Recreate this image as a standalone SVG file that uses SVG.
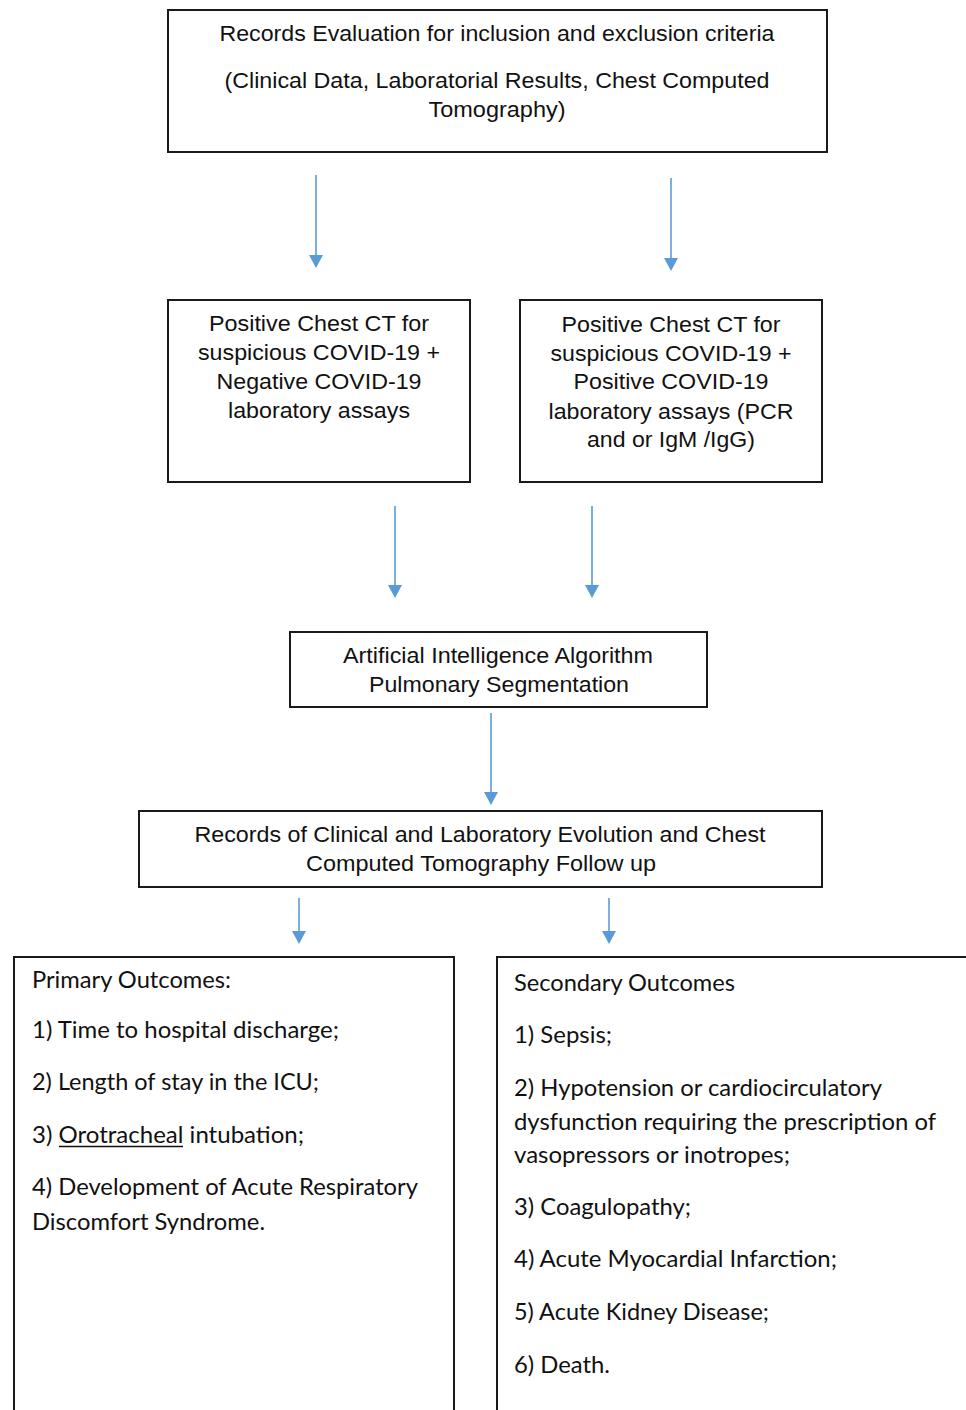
<svg xmlns="http://www.w3.org/2000/svg" width="966" height="1410" viewBox="0 0 966 1410">
<defs>
<style>
.box{fill:#fff;stroke:#1a1a1a;stroke-width:2}
.a{font-family:"Liberation Sans",Arial,sans-serif;font-size:22px;fill:#111}
.c{text-anchor:middle}
.l{font-family:Lato,"Open Sans",sans-serif;font-size:23px;fill:#111}
.conn{stroke:#5b9bd5;stroke-width:1.6;fill:none}
</style>
<marker id="ah" viewBox="0 0 14 13" refX="7" refY="13" markerWidth="14" markerHeight="13" markerUnits="userSpaceOnUse" orient="auto-start-reverse">
<path d="M0,0 L14,0 L7,13 Z" fill="#5b9bd5"/>
</marker>
</defs>
<rect width="966" height="1410" fill="#fff"/>
<g id="connectors">
<line class="conn" x1="316" y1="175" x2="316" y2="255"/><path d="M309,255 L323,255 L316,268 Z" fill="#5b9bd5"/>
<line class="conn" x1="671" y1="178" x2="671" y2="258"/><path d="M664,258 L678,258 L671,271 Z" fill="#5b9bd5"/>
<line class="conn" x1="395" y1="506" x2="395" y2="586"/><path d="M388,585 L402,585 L395,598 Z" fill="#5b9bd5"/>
<line class="conn" x1="592" y1="506" x2="592" y2="586"/><path d="M585,585 L599,585 L592,598 Z" fill="#5b9bd5"/>
<line class="conn" x1="491" y1="713" x2="491" y2="793"/><path d="M484,792 L498,792 L491,805 Z" fill="#5b9bd5"/>
<line class="conn" x1="299" y1="898" x2="299" y2="932"/><path d="M292,931 L306,931 L299,944 Z" fill="#5b9bd5"/>
<line class="conn" x1="609" y1="898" x2="609" y2="932"/><path d="M602,931 L616,931 L609,944 Z" fill="#5b9bd5"/>
</g>
<g id="records-evaluation">
<rect class="box" x="168" y="10" width="659" height="142"/>
<text class="a c" x="497" y="41" textLength="555" lengthAdjust="spacingAndGlyphs">Records Evaluation for inclusion and exclusion criteria</text>
<text class="a c" x="497" y="88" textLength="545" lengthAdjust="spacingAndGlyphs">(Clinical Data, Laboratorial Results, Chest Computed</text>
<text class="a c" x="497" y="117" textLength="137" lengthAdjust="spacingAndGlyphs">Tomography)</text>
</g>
<g id="negative-lab">
<rect class="box" x="168" y="300" width="302" height="182"/>
<text class="a c" x="319" y="331" textLength="220" lengthAdjust="spacingAndGlyphs">Positive Chest CT for</text>
<text class="a c" x="319" y="360" textLength="242" lengthAdjust="spacingAndGlyphs">suspicious COVID-19 +</text>
<text class="a c" x="319" y="389" textLength="205" lengthAdjust="spacingAndGlyphs">Negative COVID-19</text>
<text class="a c" x="319" y="418" textLength="182" lengthAdjust="spacingAndGlyphs">laboratory assays</text>
</g>
<g id="positive-lab">
<rect class="box" x="520" y="300" width="302" height="182"/>
<text class="a c" x="671" y="332" textLength="219" lengthAdjust="spacingAndGlyphs">Positive Chest CT for</text>
<text class="a c" x="671" y="361" textLength="241" lengthAdjust="spacingAndGlyphs">suspicious COVID-19 +</text>
<text class="a c" x="671" y="389" textLength="195" lengthAdjust="spacingAndGlyphs">Positive COVID-19</text>
<text class="a c" x="671" y="419" textLength="245" lengthAdjust="spacingAndGlyphs">laboratory assays (PCR</text>
<text class="a c" x="671" y="447" textLength="168" lengthAdjust="spacingAndGlyphs">and or IgM /IgG)</text>
</g>
<g id="ai-algorithm">
<rect class="box" x="290" y="632" width="417" height="75"/>
<text class="a c" x="498" y="663" textLength="310" lengthAdjust="spacingAndGlyphs">Artificial Intelligence Algorithm</text>
<text class="a c" x="499" y="692" textLength="260" lengthAdjust="spacingAndGlyphs">Pulmonary Segmentation</text>
</g>
<g id="follow-up">
<rect class="box" x="139" y="811" width="683" height="76"/>
<text class="a c" x="480" y="842" textLength="571" lengthAdjust="spacingAndGlyphs">Records of Clinical and Laboratory Evolution and Chest</text>
<text class="a c" x="481" y="871" textLength="350" lengthAdjust="spacingAndGlyphs">Computed Tomography Follow up</text>
</g>
<g id="primary-outcomes">
<rect class="box" x="14" y="957" width="440" height="470"/>
<text class="l" x="32" y="988" textLength="199" lengthAdjust="spacingAndGlyphs">Primary Outcomes:</text>
<text class="l" x="32" y="1038" textLength="307" lengthAdjust="spacingAndGlyphs">1) Time to hospital discharge;</text>
<text class="l" x="32" y="1090" textLength="287" lengthAdjust="spacingAndGlyphs">2) Length of stay in the ICU;</text>
<text class="l" x="32" y="1143" textLength="272" lengthAdjust="spacingAndGlyphs">3) Orotracheal intubation;</text>
<line x1="59" y1="1146.5" x2="183" y2="1146.5" stroke="#111" stroke-width="1.5"/>
<text class="l" x="32" y="1195" textLength="386" lengthAdjust="spacingAndGlyphs">4) Development of Acute Respiratory</text>
<text class="l" x="32" y="1230" textLength="233" lengthAdjust="spacingAndGlyphs">Discomfort Syndrome.</text>
</g>
<g id="secondary-outcomes">
<rect class="box" x="497" y="957" width="490" height="470"/>
<text class="l" x="514" y="991" textLength="221" lengthAdjust="spacingAndGlyphs">Secondary Outcomes</text>
<text class="l" x="514" y="1043" textLength="98" lengthAdjust="spacingAndGlyphs">1) Sepsis;</text>
<text class="l" x="514" y="1096" textLength="368" lengthAdjust="spacingAndGlyphs">2) Hypotension or cardiocirculatory</text>
<text class="l" x="514" y="1130" textLength="422" lengthAdjust="spacingAndGlyphs">dysfunction requiring the prescription of</text>
<text class="l" x="514" y="1163" textLength="276" lengthAdjust="spacingAndGlyphs">vasopressors or inotropes;</text>
<text class="l" x="514" y="1215" textLength="177" lengthAdjust="spacingAndGlyphs">3) Coagulopathy;</text>
<text class="l" x="514" y="1267" textLength="323" lengthAdjust="spacingAndGlyphs">4) Acute Myocardial Infarction;</text>
<text class="l" x="514" y="1320" textLength="255" lengthAdjust="spacingAndGlyphs">5) Acute Kidney Disease;</text>
<text class="l" x="514" y="1373" textLength="96" lengthAdjust="spacingAndGlyphs">6) Death.</text>
</g>
</svg>
